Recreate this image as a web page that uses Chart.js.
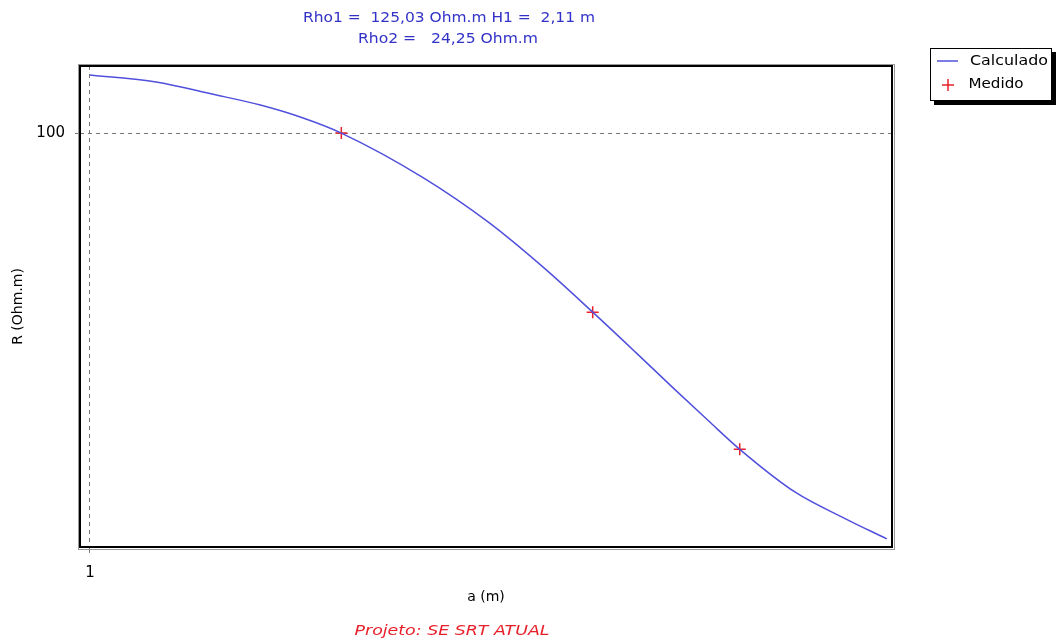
<!DOCTYPE html>
<html>
<head>
<meta charset="utf-8">
<script src="https://cdn.jsdelivr.net/npm/chart.js@4.4.1/dist/chart.umd.min.js"></script>
<style>
  html, body { margin: 0; padding: 0; background: #fff; }
  #wrap { width: 1061px; height: 639px; position: relative; }
</style>
</head>
<body>
<div id="wrap"><canvas id="chart"></canvas></div>
<script>
// Curve (Calculado)
const curveA = [1, 1.2, 1.4, 1.6, 1.8, 2, 2.5, 3, 3.5, 4, 4.5, 5, 5.5, 6, 7, 8, 9];
const curveR = [119.8, 117.2, 112.9, 109.1, 104.8, 100, 87.2, 75.8, 65.7, 57.3, 50.6, 45.2, 40.9, 37.4, 32.7, 30.2, 28.3];

// Measured points (Medido)
const measA = [2, 4, 6];
const measR = [100, 57.3, 37.4];

// ticks
const xTicks = [1];
const xTickLabels = ['1'];
const yTicks = [100];
const yTickLabels = ['100'];

const titleLines = ['Rho1 =  125,03 Ohm.m H1 =  2,11 m', 'Rho2 =   24,25 Ohm.m'];
const footerText = 'Projeto: SE SRT ATUAL';

const FONT = '"DejaVu Sans", Verdana, sans-serif';
const BLUE = '#5050dc';
const RED = '#e8202a';

// draw text squeezed/stretched to a given width (the original is a wide bitmap font)
function fitText(ctx, text, cx, cy, width) {
    const w = ctx.measureText(text).width;
    ctx.save();
    ctx.translate(cx, cy);
    ctx.scale(width / w, 1);
    ctx.fillText(text, 0, 0);
    ctx.restore();
}

// frame, titles and legend
const decor = {
    id: 'decor',
    afterDraw(chart) {
        const { ctx, chartArea: a } = chart;
        ctx.save();

        // plot frame
        ctx.strokeStyle = '#999';
        ctx.lineWidth = 1;
        ctx.strokeRect(a.left - 1.5, a.top - 1.5, a.right - a.left + 4, a.bottom - a.top + 4);
        ctx.strokeStyle = '#000';
        ctx.lineWidth = 2;
        ctx.strokeRect(a.left, a.top, a.right - a.left, a.bottom - a.top);

        // title
        ctx.fillStyle = '#3232c8';
        ctx.font = '14px ' + FONT;
        ctx.textAlign = 'center';
        ctx.textBaseline = 'middle';
        fitText(ctx, titleLines[0], 449, 18, 292);
        fitText(ctx, titleLines[1], 448, 39, 180);

        // footer
        ctx.fillStyle = RED;
        ctx.font = 'italic 14px ' + FONT;
        fitText(ctx, footerText, 452, 631, 195);

        // legend box
        const lx = 930, ly = 48, lw = 122, lh = 53;
        ctx.fillStyle = '#000';
        ctx.fillRect(lx + 4, ly + lh, lw, 4);
        ctx.fillRect(lx + lw, ly + 4, 4, lh);
        ctx.fillStyle = '#fff';
        ctx.fillRect(lx, ly, lw, lh);
        ctx.strokeStyle = '#000';
        ctx.lineWidth = 1;
        ctx.strokeRect(lx + 0.5, ly + 0.5, lw - 1, lh - 1);

        const ds = chart.data.datasets;
        ctx.font = '14px ' + FONT;
        ctx.fillStyle = '#000';
        // line entry
        ctx.strokeStyle = BLUE;
        ctx.lineWidth = 1.5;
        ctx.beginPath();
        ctx.moveTo(937, 61);
        ctx.lineTo(958, 61);
        ctx.stroke();
        fitText(ctx, ds[0].label, 1009, 61, 78);
        // cross entry
        ctx.strokeStyle = RED;
        ctx.beginPath();
        ctx.moveTo(942, 85); ctx.lineTo(954, 85);
        ctx.moveTo(948, 79); ctx.lineTo(948, 91);
        ctx.stroke();
        fitText(ctx, ds[1].label, 996, 84, 55);

        ctx.restore();
    }
};

new Chart(document.getElementById('chart'), {
    type: 'line',
    data: {
        datasets: [
            {
                label: 'Calculado',
                data: curveA.map((x, i) => ({ x, y: curveR[i] })),
                borderColor: BLUE,
                borderWidth: 1.5,
                pointRadius: 0,
                cubicInterpolationMode: 'monotone',
                fill: false,
            },
            {
                label: 'Medido',
                data: measA.map((x, i) => ({ x, y: measR[i] })),
                showLine: false,
                pointStyle: 'cross',
                pointRadius: 6,
                borderColor: RED,
                borderWidth: 1.5,
                backgroundColor: RED,
            },
        ],
    },
    options: {
        responsive: true,
        maintainAspectRatio: false,
        animation: false,
        layout: { padding: { top: 66, right: 169, bottom: 0, left: 0 } },
        plugins: {
            legend: { display: false },
            tooltip: { enabled: false },
        },
        scales: {
            x: {
                type: 'logarithmic',
                min: 0.973,
                max: 9.13,
                afterBuildTicks: (axis) => { axis.ticks = xTicks.map(v => ({ value: v })); },
                afterFit: (axis) => { axis.height = 92; },
                ticks: {
                    autoSkip: false,
                    maxRotation: 0,
                    padding: 11,
                    font: { family: FONT, size: 15 },
                    color: '#000',
                    callback: (v) => xTickLabels[xTicks.indexOf(v)] ?? '',
                },
                grid: {
                    color: '#777',
                    borderDash: [4, 4],
                    tickLength: 6,
                    tickColor: '#777',
                },
                border: { display: false, dash: [4, 4] },
                title: {
                    display: true,
                    text: 'a (m)',
                    font: { family: FONT, size: 14 },
                    color: '#000',
                    padding: { top: 0, bottom: 33 },
                },
            },
            y: {
                type: 'logarithmic',
                min: 27.6,
                max: 123.2,
                afterBuildTicks: (axis) => { axis.ticks = yTicks.map(v => ({ value: v })); },
                afterFit: (axis) => { axis.width = 80; },
                ticks: {
                    autoSkip: false,
                    padding: 10,
                    font: { family: FONT, size: 15 },
                    color: '#000',
                    callback: (v) => yTickLabels[yTicks.indexOf(v)] ?? '',
                },
                grid: {
                    color: '#777',
                    borderDash: [4, 4],
                    tickLength: 5,
                    tickColor: '#777',
                },
                border: { display: false, dash: [4, 4] },
                title: {
                    display: true,
                    text: 'R (Ohm.m)',
                    font: { family: FONT, size: 14 },
                    color: '#000',
                    padding: { top: 10, bottom: 0 },
                },
            },
        },
    },
    plugins: [decor],
});
</script>
</body>
</html>
